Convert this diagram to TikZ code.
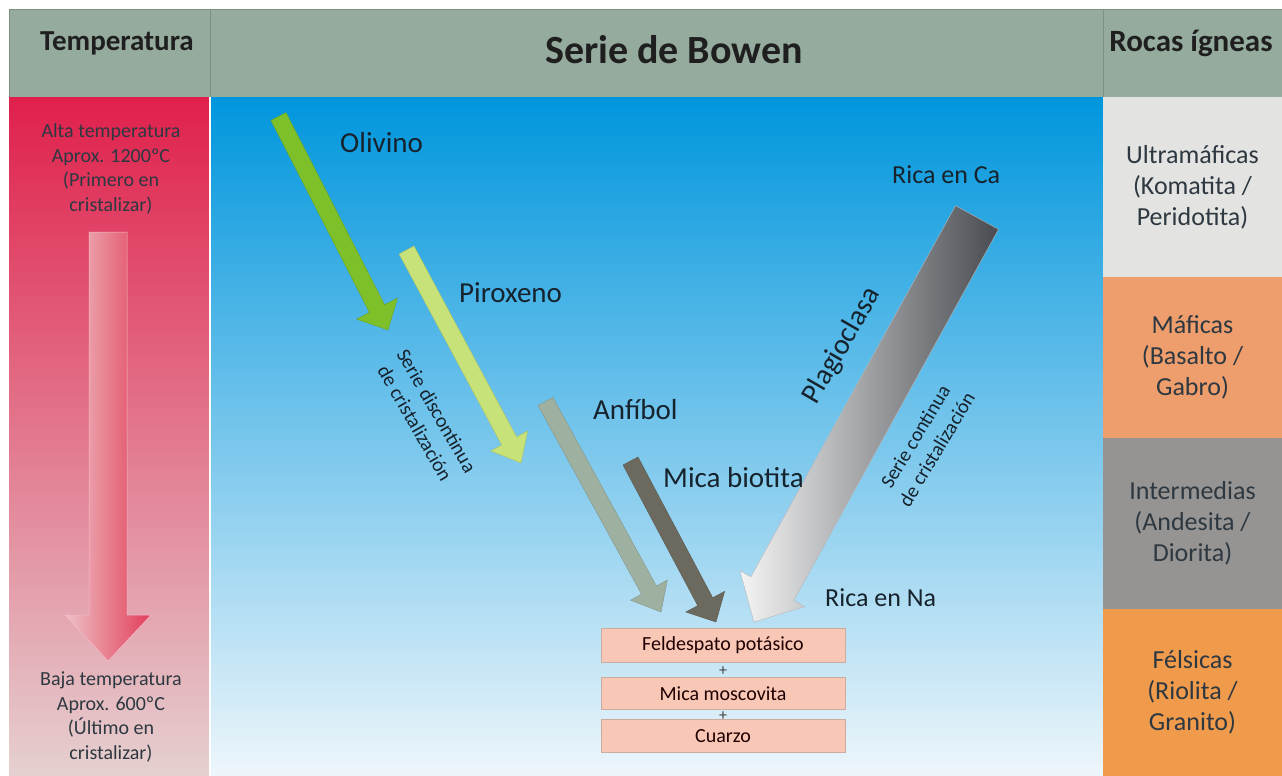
\documentclass[tikz,border=0pt]{standalone}
\usepackage{fontspec}
\setmainfont{Carlito}
\usetikzlibrary{calc,positioning}

\definecolor{headgreen}{RGB}{149,171,157}
\definecolor{headline}{RGB}{124,144,132}
\definecolor{hotred}{RGB}{224,32,76}
\definecolor{coolpink}{RGB}{229,208,208}
\definecolor{skytop}{RGB}{0,150,221}
\definecolor{skymid}{RGB}{90,184,234}
\definecolor{skybot}{RGB}{238,246,251}
\definecolor{inkdark}{RGB}{22,34,44}
\definecolor{olivgreen}{RGB}{126,192,42}
\definecolor{pirogreen}{RGB}{198,226,120}
\definecolor{anfigray}{RGB}{158,176,160}
\definecolor{micabrown}{RGB}{108,106,94}
\definecolor{plagdark}{RGB}{72,75,80}
\definecolor{ultragray}{RGB}{227,227,225}
\definecolor{maficsalmon}{RGB}{238,157,108}
\definecolor{intergray}{RGB}{150,148,146}
\definecolor{felsicorange}{RGB}{240,154,76}
\definecolor{boxpink}{RGB}{248,199,182}
\definecolor{boxedge}{RGB}{205,172,160}

% fat arrow: tail, tip, half shaft, half head, head length, style
\newcommand{\fatarrow}[6]{%
  \coordinate (fa-base) at ($(#2)!#5!(#1)$);
  \path[#6] ($(#1)!#3!90:(#2)$) -- ($(fa-base)!#3!90:(#2)$)
    -- ($(fa-base)!#4!90:(#2)$) -- (#2)
    -- ($(fa-base)!#4!-90:(#2)$) -- ($(fa-base)!#3!-90:(#2)$)
    -- ($(#1)!#3!-90:(#2)$) -- cycle;}

\begin{document}
\begin{tikzpicture}[x=1pt, y=-1pt,
  cell/.style = {draw=headline, line width=0.8pt, fill=headgreen,
    minimum width=#1, minimum height=88, inner sep=0pt, outer sep=0pt},
  column/.style = {minimum width=#1, minimum height=679,
    inner sep=0pt, outer sep=0pt},
  rock/.style = {minimum width=179, minimum height=#1, inner sep=0pt,
    outer sep=0pt, align=center, text=inkdark!90,
    font=\fontsize{26}{31}\selectfont},
  headtext/.style = {font=\bfseries\fontsize{29}{34}\selectfont,
    text=black!88, inner sep=0pt},
  temptext/.style = {align=center, text=inkdark!90, inner sep=0pt,
    font=\fontsize{20}{24.5}\selectfont},
  mineral/.style = {anchor=west, inner sep=0pt, text=inkdark,
    font=\fontsize{29}{34}\selectfont},
  rich/.style = {anchor=west, inner sep=0pt, text=inkdark,
    font=\fontsize{26}{31}\selectfont},
  series/.style = {align=center, inner sep=0pt, text=inkdark,
    font=\fontsize{20}{25}\selectfont},
  endbox/.style = {draw=boxedge, fill=boxpink, line width=0.8pt,
    minimum width=244, inner sep=0pt, text=black!80!red!60!black,
    font=\fontsize{20}{24}\selectfont},
  plus/.style = {inner sep=0pt, text=black!75, font=\fontsize{16}{18}\selectfont}]

  \useasboundingbox (0,0) rectangle (1282,776);
  \fill[white] (0,0) rectangle (1282,776);

  % header row
  \node[cell=201] (hTemp) at (109.5,53) {};
  \node[cell=893] (hBowen) at (656.5,53) {};
  \node[cell=179] (hRocas) at (1192.5,53) {};
  \node[headtext] (tTemp) at (117,43) {Temperatura};
  \node[headtext, font=\bfseries\fontsize{40}{46}\selectfont] (tBowen) at (674,50) {Serie de Bowen};
  \node[headtext, font=\bfseries\fontsize{31}{36}\selectfont] (tRocas) at (1191,43) {Rocas ígneas};

  % body columns
  \node[column=201, top color=hotred, bottom color=coolpink] (tempcol) at (109.5,436.5) {};
  \node[column=893, top color=skytop, middle color=skymid, bottom color=skybot] (bowencol) at (656.5,436.5) {};
  \draw[white, line width=1.5pt] (tempcol.north east) -- (tempcol.south east);

  \node[rock=180, fill=ultragray] (ultra) at (1192.5,187) {Ultramáficas\\(Komatita /\\Peridotita)};
  \node[rock=161, fill=maficsalmon] (mafic) at (1192.5,357.5) {Máficas\\(Basalto /\\Gabro)};
  \node[rock=171, fill=intergray] (inter) at (1192.5,523.5) {Intermedias\\(Andesita /\\Diorita)};
  \node[rock=167, fill=felsicorange] (felsic) at (1192.5,692.5) {Félsicas\\(Riolita /\\Granito)};

  % temperature column
  \node[temptext] (hot) at (111,169) {Alta temperatura\\Aprox. 1200ºC\\(Primero en\\cristalizar)};
  \node[temptext] (cold) at (111,717) {Baja temperatura\\Aprox. 600ºC\\(Último en\\cristalizar)};
  \coordinate (tmp-s) at (108,232);
  \coordinate (tmp-e) at (108,661);
  \fatarrow{tmp-s}{tmp-e}{19pt}{43pt}{46pt}{left color={rgb,255:red,238;green,192;blue,198},
    right color={rgb,255:red,226;green,62;blue,88}, draw=white!70!hotred, line width=0.5pt}

  % discontinuous series
  \coordinate (oli-s) at (278.5,116.5);  \coordinate (oli-e) at (388,330);
  \coordinate (piro-s) at (406.5,250);   \coordinate (piro-e) at (521,463);
  \coordinate (anfi-s) at (545.5,401.5); \coordinate (anfi-e) at (661,612);
  \coordinate (mica-s) at (630.5,461);   \coordinate (mica-e) at (716,622);
  \fatarrow{oli-s}{oli-e}{8.5pt}{23pt}{24pt}{fill=olivgreen, draw=olivgreen!85!black, line width=0.4pt}
  \fatarrow{piro-s}{piro-e}{8.5pt}{21pt}{25pt}{fill=pirogreen, draw=pirogreen!85!black, line width=0.4pt}
  \fatarrow{anfi-s}{anfi-e}{8.5pt}{21pt}{25pt}{fill=anfigray, draw=anfigray!85!black, line width=0.4pt}
  \fatarrow{mica-s}{mica-e}{8.5pt}{22pt}{23pt}{fill=micabrown, draw=micabrown!85!black, line width=0.4pt}

  % continuous series
  \coordinate (plag-s) at (977,217.5);   \coordinate (plag-e) at (754,622);
  \fatarrow{plag-s}{plag-e}{24.5pt}{37pt}{38pt}{left color=white!96!black, right color=plagdark,
    draw=white!60!plagdark, line width=0.4pt}

  \node[mineral] (lOli) at (340,143) {Olivino};
  \node[mineral] (lPiro) at (459,293) {Piroxeno};
  \node[mineral] (lAnfi) at (593,410) {Anfíbol};
  \node[mineral] (lMica) at (663,478) {Mica biotita};
  \node[mineral, anchor=center, rotate=60] (lPlag) at (842,346) {Plagioclasa};
  \node[rich] (lCa) at (892,175) {Rica en Ca};
  \node[rich] (lNa) at (825,598) {Rica en Na};
  \node[series, rotate=-60] (disc) at (426,417) {Serie discontinua\\de cristalización};
  \node[series, rotate=59] (cont) at (926,443) {Serie continua\\de cristalización};

  % final minerals
  \node[endbox, minimum height=34] (feld) at (723,645) {Feldespato potásico};
  \node[endbox, minimum height=32, below=15pt of feld] (musc) {Mica moscovita};
  \node[plus] (plus1) at ($(feld.south)!0.55!(musc.north)$) {+};
  \node[plus] (plus2) at ($(musc.south)+(0,6)$) {+};
  \node[endbox, minimum height=33, below=9pt of musc] (quartz) {Cuarzo};
\end{tikzpicture}
\end{document}
